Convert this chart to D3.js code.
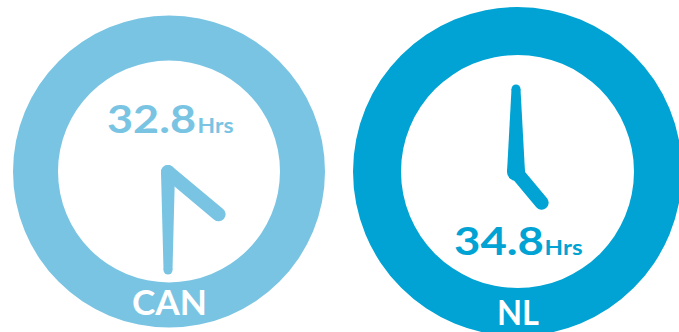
<!DOCTYPE html>
<html>
<head>
<meta charset="utf-8">
<script src="https://cdn.jsdelivr.net/npm/d3@7"></script>
<style>
  html, body { margin: 0; padding: 0; background: #ffffff; }
  svg { display: block; }
</style>
</head>
<body>
<svg id="chart" width="679" height="332"></svg>
<script>
// ---- data ----
const countries = ["CAN", "NL"];
const hoursWorked = [32.8, 34.8];
const unitLabel = "Hrs";
const clockHourHand = [4.33, 4.67];   // position of hour hand on the dial (hours)
const clockMinuteHand = [30, 0];      // position of minute hand on the dial (minutes)
const colors = ["#79c4e3", "#00a3d3"];

// ---- layout (per clock) ----
const layout = [
  { cx: 169, cy: 171.5, outer: 156, inner: 111, pivot: [168, 172],
    minLen: 98, minBase: 14, minTip: 9, hrLen: 66, hrW: 14,
    valX: 107, valY: 133, valW: 89, unitX: 197.5, unitW: 36, labY: 315, labW: 75 },
  { cx: 517.5, cy: 171.5, outer: 164.5, inner: 116.5, pivot: [516, 172],
    minLen: 83, minBase: 18, minTip: 9, hrLen: 40, hrW: 14,
    valX: 454, valY: 255, valW: 90, unitX: 544.5, unitW: 38, labY: 325, labW: 42 }
];

const svg = d3.select("#chart");
const hourScale = d3.scaleLinear().domain([0, 12]).range([0, 2 * Math.PI]);
const minuteScale = d3.scaleLinear().domain([0, 60]).range([0, 2 * Math.PI]);
const ring = d3.arc().startAngle(0).endAngle(2 * Math.PI);
const font = "Lato, 'Open Sans', sans-serif";

countries.forEach((c, i) => {
  const L = layout[i];
  const col = colors[i];
  const g = svg.append("g");

  // ring
  g.append("path")
    .attr("transform", `translate(${L.cx},${L.cy})`)
    .attr("d", ring({ innerRadius: L.inner, outerRadius: L.outer }))
    .attr("fill", col);

  const hg = g.append("g").attr("transform", `translate(${L.pivot[0]},${L.pivot[1]})`);

  // minute hand (tapered)
  const ma = minuteScale(clockMinuteHand[i]);
  const ux = Math.sin(ma), uy = -Math.cos(ma);
  const px = -uy, py = ux;
  const tipX = ux * L.minLen, tipY = uy * L.minLen;
  const pts = [
    [px * L.minBase / 2, py * L.minBase / 2],
    [tipX + px * L.minTip / 2, tipY + py * L.minTip / 2],
    [tipX - px * L.minTip / 2, tipY - py * L.minTip / 2],
    [-px * L.minBase / 2, -py * L.minBase / 2]
  ];
  hg.append("path")
    .attr("d", d3.line()(pts) + "Z")
    .attr("fill", col);
  hg.append("circle").attr("cx", tipX).attr("cy", tipY).attr("r", L.minTip / 2).attr("fill", col);
  hg.append("circle").attr("cx", 0).attr("cy", 0).attr("r", L.minBase / 2).attr("fill", col);

  // hour hand
  const ha = hourScale(clockHourHand[i]);
  hg.append("line")
    .attr("x1", 0).attr("y1", 0)
    .attr("x2", Math.sin(ha) * L.hrLen).attr("y2", -Math.cos(ha) * L.hrLen)
    .attr("stroke", col).attr("stroke-width", L.hrW).attr("stroke-linecap", "round");

  // value text
  g.append("text")
    .attr("x", L.valX).attr("y", L.valY)
    .attr("fill", col)
    .attr("font-family", font)
    .attr("font-weight", 700)
    .attr("font-size", 37.5)
    .attr("textLength", L.valW)
    .attr("lengthAdjust", "spacingAndGlyphs")
    .text(d3.format(".1f")(hoursWorked[i]));
  g.append("text")
    .attr("x", L.unitX).attr("y", L.valY)
    .attr("fill", col)
    .attr("font-family", font)
    .attr("font-weight", 700)
    .attr("font-size", 21)
    .attr("textLength", L.unitW)
    .attr("lengthAdjust", "spacingAndGlyphs")
    .text(unitLabel);

  // country label
  g.append("text")
    .attr("x", L.cx - L.labW / 2 + 0.5).attr("y", L.labY)
    .attr("fill", "#ffffff")
    .attr("font-family", font)
    .attr("font-weight", 700)
    .attr("font-size", 35)
    .attr("textLength", L.labW)
    .attr("lengthAdjust", "spacingAndGlyphs")
    .text(c);
});
</script>
</body>
</html>
